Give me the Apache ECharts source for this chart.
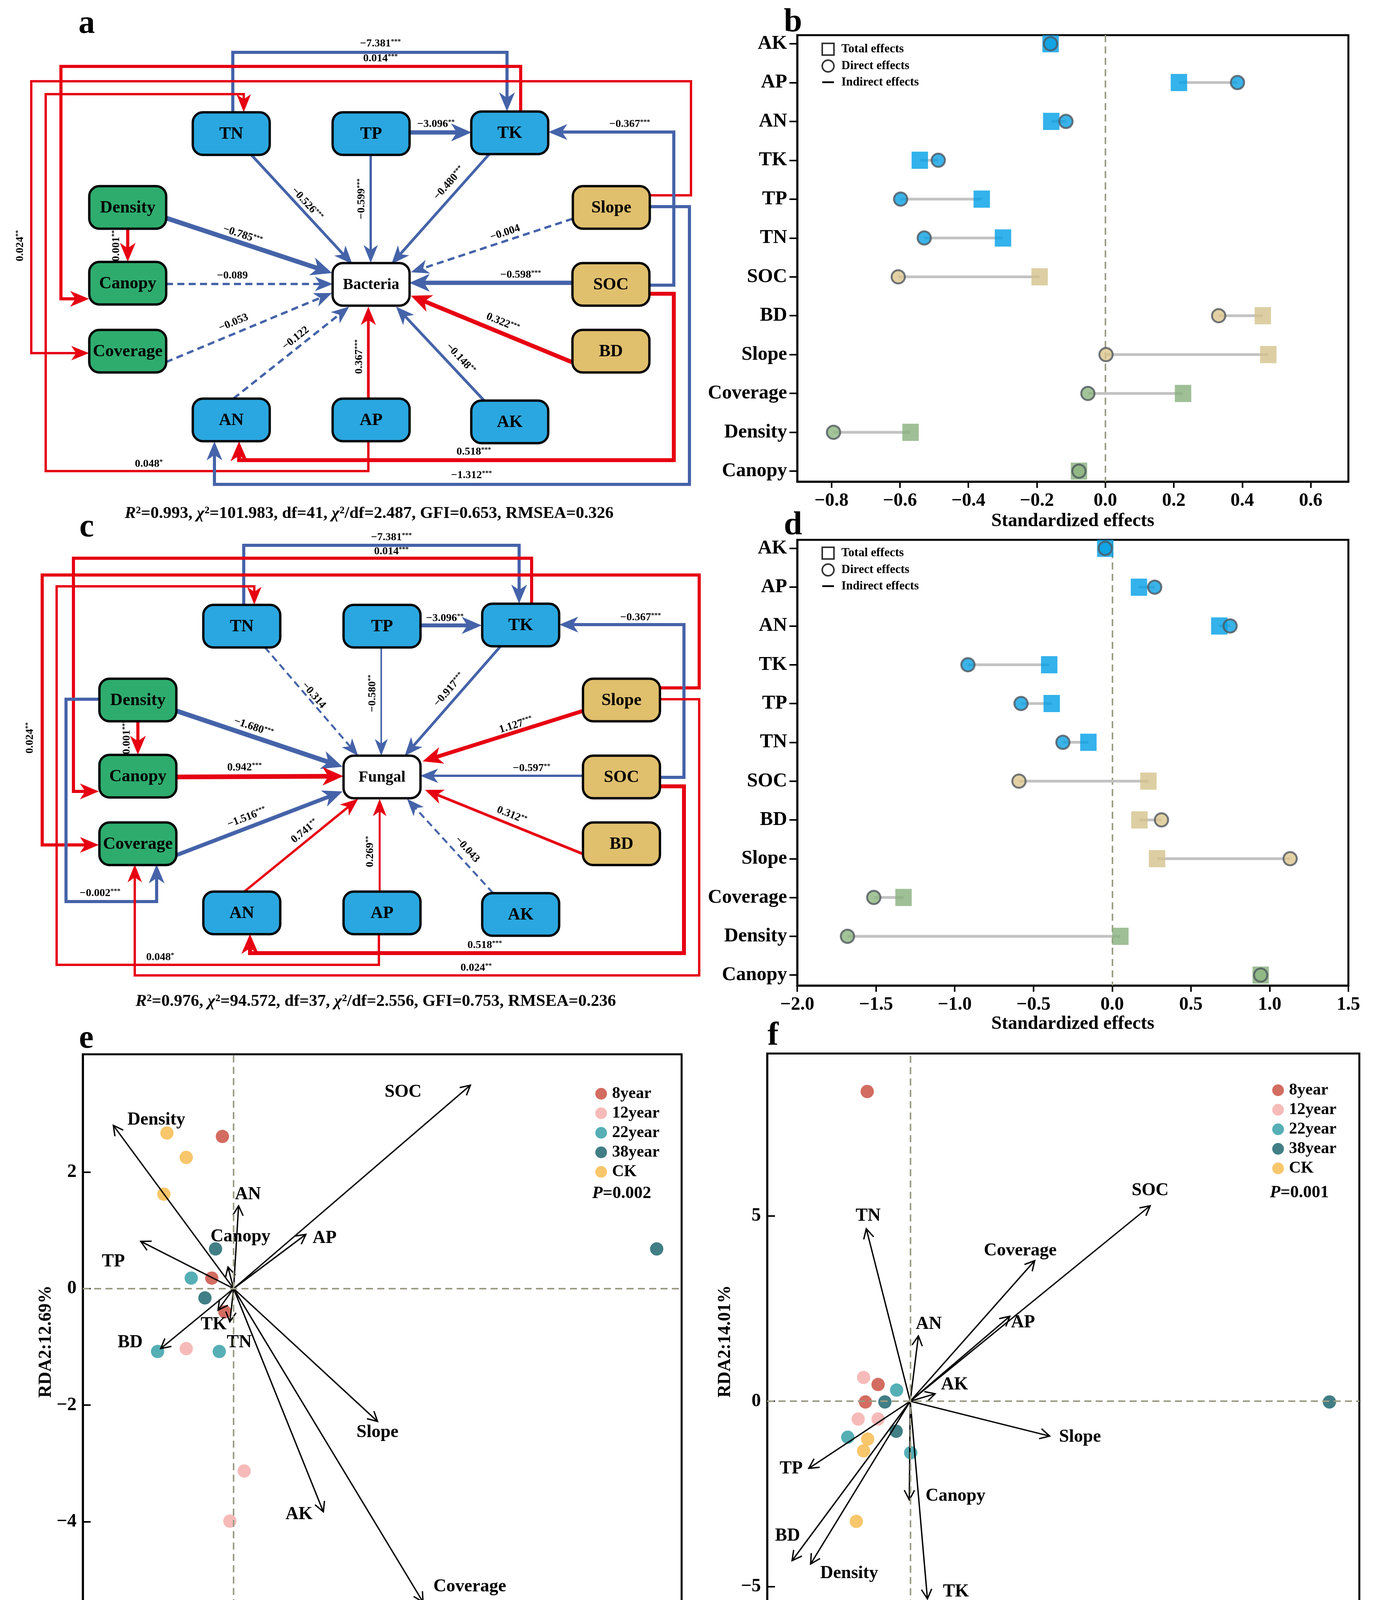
<!DOCTYPE html>
<html><head><meta charset="utf-8">
<script src="https://cdn.jsdelivr.net/npm/echarts@6/dist/echarts.min.js"></script>
<style>html,body{margin:0;padding:0;background:#fff}#c{width:3515px;height:4321px}</style>
</head><body><div id="c"></div>
<script>
// ================= DATA =================
// --- SEM (panels a, c): node names and path coefficients
const aNodes = ['TN','TP','TK','Density','Slope','Canopy','Bacteria','SOC','Coverage','BD','AN','AP','AK'];
const cNodes = ['TN','TP','TK','Density','Slope','Canopy','Fungal','SOC','Coverage','BD','AN','AP','AK'];
const nodeKind = ['soil','soil','soil','veg','site','veg','resp','site','veg','site','soil','soil','soil'];
const aCoef = ['−7.381','0.014','0.024','0.048','−0.367','−1.312','0.518','−3.096','0.001','−0.526','−0.599','−0.480','−0.785','−0.004','−0.089','−0.598','−0.053','−0.122','0.367','−0.148','0.322'];
const aSig  = ['***','***','**','*','***','***','***','**','***','***','***','***','***','','','***','','','***','**','***'];
const cCoef = ['−7.381','0.014','0.024','0.048','−0.367','0.518','−0.002','0.024','−3.096','0.001','−0.314','−0.580','−0.917','−1.680','1.127','0.942','−0.597','−1.516','0.741','0.269','−0.043','0.312'];
const cSig  = ['***','***','**','*','***','***','***','**','**','***','','**','***','***','***','***','**','***','**','**','','**'];
const aFit = ['0.993','101.983','41','2.487','0.653','0.326'];
const cFit = ['0.976','94.572','37','2.556','0.753','0.236'];

// --- Standardized effects (panels b, d)
const effCats  = ['AK','AP','AN','TK','TP','TN','SOC','BD','Slope','Coverage','Density','Canopy'];
const effGroup = ['soil','soil','soil','soil','soil','soil','site','site','site','veg','veg','veg'];
const bactTotal  = [-0.16, 0.215, -0.158, -0.542, -0.361, -0.299, -0.192, 0.46, 0.476, 0.227, -0.569, -0.077];
const bactDirect = [-0.16, 0.386, -0.115, -0.488, -0.598, -0.529, -0.605, 0.331, 0.002, -0.051, -0.794, -0.077];
const fungTotal  = [-0.044, 0.17, 0.68, -0.40, -0.384, -0.151, 0.23, 0.173, 0.285, -1.325, 0.052, 0.943];
const fungDirect = [-0.044, 0.27, 0.749, -0.916, -0.579, -0.313, -0.592, 0.313, 1.13, -1.514, -1.681, 0.943];
const bTicks = [-0.8,-0.6,-0.4,-0.2,0,0.2,0.4,0.6];
const dTicks = [-2,-1.5,-1,-0.5,0,0.5,1,1.5];
const catTicks = [0,1,2,3,4,5,6,7,8,9,10,11];

// --- RDA (panels e, f)
const rdaGroups = ['8year','12year','22year','38year','CK'];
const e8year  = [[-0.18,2.61],[-0.35,0.18],[-0.14,-0.40]];
const e12year = [[-0.76,-1.03],[0.17,-3.13],[-0.06,-3.99]];
const e22year = [[-0.68,0.18],[-1.22,-1.08],[-0.23,-1.08]];
const e38year = [[-0.29,0.68],[-0.46,-0.16],[6.79,0.68]];
const eCK     = [[-1.07,2.67],[-0.76,2.25],[-1.12,1.62]];
const eVars = ['SOC','Density','AN','Canopy','AP','TP','TK','TN','BD','Slope','AK','Coverage'];
const eVarX = [3.80,-1.93,0.08,-0.09,1.16,-1.49,-0.25,-0.06,-1.17,2.31,1.44,3.04];
const eVarY = [3.49,2.80,1.42,0.37,0.93,0.81,-0.37,-0.57,-1.03,-2.28,-3.83,-5.38];
const f8year  = [[-0.95,8.35],[-0.71,0.45],[-0.99,-0.02]];
const f12year = [[-1.03,0.64],[-1.15,-0.48],[-0.71,-0.48]];
const f22year = [[-0.30,0.30],[-1.38,-0.97],[0.01,-1.39]];
const f38year = [[-0.56,-0.02],[-0.31,-0.81],[9.26,-0.02]];
const fCK     = [[-0.94,-1.02],[-1.03,-1.34],[-1.19,-3.24]];
const fVars = ['TN','SOC','Coverage','AP','AN','AK','Slope','Canopy','TK','TP','BD','Density'];
const fVarX = [-0.97,5.30,2.75,2.20,0.18,0.55,3.08,-0.02,0.38,-2.24,-2.61,-2.20];
const fVarY = [4.65,5.27,3.79,2.29,1.76,0.20,-0.94,-2.66,-5.33,-1.81,-4.30,-4.39];
const eXTicks = [0,2.5,5], eXTickLabels = ['0.0','2.5','5.0'];
const eYTicks = [-4,-2,0,2], eYTickLabels = ['−4','−2','0','2'];
const fXTicks = [-2.5,0,2.5,5,7.5], fXTickLabels = ['2.5','0.0','2.5','5.0','7.5'];
const fYTicks = [-5,0,5], fYTickLabels = ['−5','0','5'];
const ePval = '0.002', fPval = '0.001';

// ================= LAYOUT / STYLE =================
const FF = "'Liberation Serif','Times New Roman',serif";
const RED = '#E60012', BLUE = '#4563A9';
const NODE_FILL = {soil:'#2AA7E0', veg:'#2EAC6E', site:'#E0BF6D', resp:'#FFFFFF'};
const SQ_COL = {soil:'#009FE6', site:'#D5C38C', veg:'#87B07D'};
const CI_COL = {soil:'#0AA0E2', site:'#DCC58E', veg:'#8CB57F'};
const GRP_COL = {'8year':'#C8473A','12year':'#F4AAA7','22year':'#2A9BA3','38year':'#115E67','CK':'#F6B846'};
// diagram node centres (diagram units = canvas px)
const aNodePos = [[592,342],[950,342],[1305,340],[327,531],[1565,531],[327,725],[950,728],[1564,728],[327,899],[1564,899],[592,1075],[950,1075],[1305,1080]];
const cNodePos = [[619,1603],[978,1603],[1333,1600],[353,1792],[1591,1792],[353,1987],[978,1989],[1591,1989],[353,2160],[1591,2160],[619,2337],[978,2337],[1333,2341]];
// edge routes (p), line widths (w), label anchor (l), optional label rotation (r)
const aRoutes = [
 {p:[[596,287],[596,134],[1298,134],[1298,285]], w:8, l:[974,112]},
 {p:[[1333,285],[1333,170],[156,170],[156,765],[228,765]], w:8, l:[974,150]},
 {p:[[1663,500],[1769,500],[1769,208],[80,208],[80,904],[228,904]], w:6, l:[52,629], r:90},
 {p:[[943,1130],[943,1206],[117,1206],[117,241],[624,241],[624,287]], w:6, l:[381,1188]},
 {p:[[1663,730],[1725,730],[1725,338],[1404,338]], w:8, l:[1612,318]},
 {p:[[1663,529],[1765,529],[1765,1240],[549,1240],[549,1130]], w:8, l:[1207,1217]},
 {p:[[1663,752],[1725,752],[1725,1178],[612,1178],[612,1130]], w:10, l:[1213,1157]},
 {p:[[1048,339],[1207,339]], w:11, l:[1116,318]},
 {p:[[327,585],[327,670]], w:8, l:[298,625]},
 {p:[[643,396],[902,676]], w:7, l:[786,522]},
 {p:[[949,396],[949,673]], w:6, l:[926,509]},
 {p:[[1253,394],[1002,676]], w:7, l:[1150,469]},
 {p:[[425,558],[850,699]], w:12, l:[621,602]},
 {p:[[1466,560],[1052,697]], w:6, l:[1293,596]},
 {p:[[425,727],[852,727]], w:6, l:[595,706]},
 {p:[[1464,724],[1048,724]], w:11, l:[1333,704]},
 {p:[[425,927],[850,750]], w:6, l:[598,826]},
 {p:[[598,1020],[894,785]], w:6, l:[757,866]},
 {p:[[943,1020],[943,785]], w:7, l:[920,913]},
 {p:[[1239,1025],[1014,785]], w:7, l:[1179,918]},
 {p:[[1464,927],[1052,757]], w:11, l:[1287,826]}
];
const cRoutes = [
 {p:[[624,1548],[624,1396],[1329,1396],[1329,1545]], w:8, l:[1002,1376]},
 {p:[[1361,1545],[1361,1429],[188,1429],[188,2026],[253,2026]], w:8, l:[1002,1412]},
 {p:[[1690,1761],[1790,1761],[1790,1472],[108,1472],[108,2163],[253,2163]], w:8, l:[77,1889], r:90},
 {p:[[970,2391],[970,2470],[145,2470],[145,1501],[651,1501],[651,1548]], w:6, l:[410,2451]},
 {p:[[1690,1990],[1751,1990],[1751,1599],[1432,1599]], w:8, l:[1640,1581]},
 {p:[[1690,2013],[1751,2013],[1751,2440],[640,2440],[640,2391]], w:10, l:[1241,2420]},
 {p:[[253,1790],[169,1790],[169,2308],[401,2308],[401,2213]], w:8, l:[256,2287]},
 {p:[[1690,1790],[1790,1790],[1790,2497],[345,2497],[345,2213]], w:6, l:[1219,2478]},
 {p:[[1076,1601],[1233,1601]], w:10, l:[1139,1583]},
 {p:[[353,1846],[353,1932]], w:8, l:[325,1887]},
 {p:[[678,1657],[917,1935]], w:5, l:[803,1780]},
 {p:[[976,1657],[976,1935]], w:4, l:[954,1775]},
 {p:[[1281,1655],[1036,1935]], w:7, l:[1150,1766]},
 {p:[[452,1820],[877,1963]], w:12, l:[649,1862]},
 {p:[[1492,1820],[1082,1949]], w:10, l:[1321,1856]},
 {p:[[452,1989],[879,1987]], w:12, l:[626,1965]},
 {p:[[1492,1986],[1076,1986]], w:6, l:[1361,1967]},
 {p:[[452,2189],[877,2026]], w:10, l:[632,2093]},
 {p:[[626,2282],[917,2045]], w:6, l:[780,2128]},
 {p:[[972,2282],[972,2045]], w:5, l:[948,2180]},
 {p:[[1262,2286],[1042,2045]], w:5, l:[1196,2175]},
 {p:[[1492,2186],[1088,2022]], w:7, l:[1310,2087]}
];
const eLabX = [2.72,-1.24,0.23,0.11,1.46,-1.93,-0.32,0.09,-1.66,2.31,1.05,3.79];
const eLabY = [3.37,2.89,1.61,0.89,0.86,0.46,-0.62,-0.93,-0.93,-2.47,-3.88,-5.12];
const fLabX = [-0.93,5.30,2.43,2.49,0.41,0.98,3.75,1.00,1.01,-2.63,-2.71,-1.35];
const fLabY = [4.99,5.68,4.06,2.12,2.07,0.44,-0.97,-2.56,-5.14,-1.82,-3.63,-4.65];

// ================= HELPERS =================
const fmt1 = v => (v < -1e-9 ? '−' : '') + Math.abs(v).toFixed(1);
const lookup = (ticks, labels) => v => { const k = ticks.findIndex(t => Math.abs(t - v) < 1e-6); return k >= 0 ? labels[k] : ''; };
const LBL = {fontFamily: FF, fontWeight: 'bold', color: '#000'};
const RICH = {
  n: {fontFamily: FF, fontWeight: 'bold', fontSize: 28, fill: '#000', color: '#000'},
  s: {fontFamily: FF, fontWeight: 'bold', fontSize: 17, fill: '#000', color: '#000', verticalAlign: 'top'}
};

function edgeRender(routes, coefs, sigs) {
  return function (params, api) {
    const i = params.dataIndex, r = routes[i];
    const neg = coefs[i].charAt(0) === '−';
    const col = neg ? BLUE : RED;
    const dashed = sigs[i] === '';
    const pts = r.p.map(p => api.coord(p));
    const n = pts.length;
    const [x1, y1] = pts[n - 2], [x2, y2] = pts[n - 1];
    const dx = x2 - x1, dy = y2 - y1, L = Math.hypot(dx, dy), ux = dx / L, uy = dy / L, px = -uy, py = ux;
    const al = 38 + r.w * 1.3, aw = 13 + r.w * 0.9;
    const bx = x2 - ux * al, by = y2 - uy * al;
    const arrow = [[x2, y2], [bx + px * aw, by + py * aw], [x2 - ux * al * 0.72, y2 - uy * al * 0.72], [bx - px * aw, by - py * aw]];
    const lp = pts.slice(); lp[n - 1] = [x2 - ux * al * 0.6, y2 - uy * al * 0.6];
    let rot = 0;
    if (r.r !== undefined) rot = r.r * Math.PI / 180;
    else if (n === 2) {
      let th = Math.atan2(dy, dx);
      if (th > Math.PI / 2 - 1e-3) th -= Math.PI; else if (th < -Math.PI / 2 - 1e-3) th += Math.PI;
      rot = -th;
    }
    const lab = api.coord(r.l);
    const txt = sigs[i] ? `{n|${coefs[i]}}{s|${sigs[i]}}` : `{n|${coefs[i]}}`;
    return {type: 'group', children: [
      {type: 'polyline', shape: {points: lp}, style: {stroke: col, lineWidth: r.w, fill: null, lineDash: dashed ? [18, 11] : null, lineJoin: 'miter', lineCap: 'butt'}},
      {type: 'polygon', shape: {points: arrow}, style: {fill: col}},
      {type: 'text', x: lab[0], y: lab[1], rotation: rot, style: {text: txt, rich: RICH, align: 'center', verticalAlign: 'middle'}}
    ]};
  };
}
function nodeRender(names, pos) {
  return function (params, api) {
    const i = params.dataIndex;
    const c = api.coord(pos[i]);
    const s = api.size([197, 109]);
    const w = Math.abs(s[0]), h = Math.abs(s[1]);
    return {type: 'group', children: [
      {type: 'rect', shape: {x: c[0] - w / 2, y: c[1] - h / 2, width: w, height: h, r: 26},
       style: {fill: NODE_FILL[nodeKind[i]], stroke: '#000', lineWidth: 6}},
      {type: 'text', x: c[0], y: c[1] + 2, style: {text: names[i], fill: '#000', fontFamily: FF, fontWeight: 'bold',
       fontSize: nodeKind[i] === 'resp' ? 40 : 44, align: 'center', verticalAlign: 'middle'}}
    ]};
  };
}
function indirectRender(params, api) {
  const a = api.coord([api.value(0), api.value(2)]);
  const b = api.coord([api.value(1), api.value(2)]);
  return {type: 'line', shape: {x1: a[0], y1: a[1], x2: b[0], y2: b[1]}, style: {stroke: '#C2C2C2', lineWidth: 7}};
}
function rdaArrowRender(names, labX, labY) {
  return function (params, api) {
    const o = api.coord([0, 0]);
    const t = api.coord([api.value(0), api.value(1)]);
    const i = api.value(2);
    const dx = t[0] - o[0], dy = t[1] - o[1], L = Math.hypot(dx, dy), ux = dx / L, uy = dy / L;
    const A = 28, ang = 28 * Math.PI / 180;
    const rot = (x, y, a) => [x * Math.cos(a) - y * Math.sin(a), x * Math.sin(a) + y * Math.cos(a)];
    const r1 = rot(ux, uy, ang), r2 = rot(ux, uy, -ang);
    const lab = api.coord([labX[i], labY[i]]);
    return {type: 'group', children: [
      {type: 'line', shape: {x1: o[0], y1: o[1], x2: t[0], y2: t[1]}, style: {stroke: '#000', lineWidth: 3.5}},
      {type: 'polyline', shape: {points: [[t[0] - r1[0] * A, t[1] - r1[1] * A], t, [t[0] - r2[0] * A, t[1] - r2[1] * A]]},
       style: {stroke: '#000', lineWidth: 3.5, fill: null}},
      {type: 'text', x: lab[0], y: lab[1], style: {text: names[i], fill: '#000', fontFamily: FF, fontWeight: 'bold', fontSize: 46, align: 'center', verticalAlign: 'middle'}}
    ]};
  };
}

// ================= AXES =================
const hiddenX = {gridIndex: 0, type: 'value', min: 0, max: 1785, show: false};
const hiddenY = {gridIndex: 0, type: 'value', min: 0, max: 2650, inverse: true, show: false};
function effX(gi, min, max, ticks, gap) {
  return {gridIndex: gi, type: 'value', min, max,
    axisLine: {show: true, onZero: false, lineStyle: {color: '#000', width: 5}},
    axisTick: {show: true, inside: false, length: 16, customValues: ticks, lineStyle: {color: '#000', width: 4}},
    axisLabel: {customValues: ticks, formatter: fmt1, margin: 26, fontSize: 48, ...LBL},
    splitLine: {show: false},
    name: 'Standardized effects', nameLocation: 'middle', nameGap: gap,
    nameTextStyle: {fontSize: 48, ...LBL}};
}
function effY(gi) {
  return {gridIndex: gi, type: 'value', inverse: true, min: -0.22, max: 11.27,
    axisLine: {show: true, onZero: false, lineStyle: {color: '#000', width: 5}},
    axisTick: {show: true, inside: false, length: 20, customValues: catTicks, lineStyle: {color: '#000', width: 4}},
    axisLabel: {customValues: catTicks, formatter: v => effCats[Math.round(v)], margin: 26, fontSize: 50, ...LBL},
    splitLine: {show: false}};
}
function rdaAxis(gi, min, max, ticks, labels, name, gap, extra) {
  return Object.assign({gridIndex: gi, type: 'value', min, max,
    axisLine: {show: true, onZero: false, lineStyle: {color: '#000', width: 5}},
    axisTick: {show: true, inside: true, length: 20, customValues: ticks, lineStyle: {color: '#000', width: 4}},
    axisLabel: {customValues: ticks, formatter: lookup(ticks, labels), margin: 16, fontSize: 48, ...LBL},
    splitLine: {show: false},
    name, nameLocation: 'middle', nameGap: gap, nameTextStyle: {fontSize: 46, ...LBL}}, extra || {});
}

const zeroLineStyle = {color: '#9C9C84', width: 4, type: [18, 11]};

// ================= SERIES =================
const series = [];
// SEM diagrams
series.push({type: 'custom', name: 'semA-edges', xAxisIndex: 0, yAxisIndex: 0, z: 2, silent: true,
  renderItem: edgeRender(aRoutes, aCoef, aSig), data: aCoef.map((c, i) => [aRoutes[i].p[0][0], aRoutes[i].p[0][1]])});
series.push({type: 'custom', name: 'semA-nodes', xAxisIndex: 0, yAxisIndex: 0, z: 3, silent: true,
  renderItem: nodeRender(aNodes, aNodePos), data: aNodePos.map(p => [p[0], p[1]])});
series.push({type: 'custom', name: 'semC-edges', xAxisIndex: 0, yAxisIndex: 0, z: 2, silent: true,
  renderItem: edgeRender(cRoutes, cCoef, cSig), data: cCoef.map((c, i) => [cRoutes[i].p[0][0], cRoutes[i].p[0][1]])});
series.push({type: 'custom', name: 'semC-nodes', xAxisIndex: 0, yAxisIndex: 0, z: 3, silent: true,
  renderItem: nodeRender(cNodes, cNodePos), data: cNodePos.map(p => [p[0], p[1]])});

// Effects plots
function effectSeries(gi, total, direct) {
  return [
    {type: 'custom', name: 'Indirect effects', xAxisIndex: gi, yAxisIndex: gi, z: 2, renderItem: indirectRender,
      encode: {x: [0, 1], y: 2}, data: effCats.map((c, i) => [direct[i], total[i], i])},
    {type: 'scatter', name: 'Total effects', xAxisIndex: gi, yAxisIndex: gi, z: 3, symbol: 'rect', symbolSize: [42, 44],
      data: total.map((v, i) => ({value: [v, i], itemStyle: {color: SQ_COL[effGroup[i]]}})),
      markLine: {silent: true, symbol: ['none', 'none'], label: {show: false}, lineStyle: zeroLineStyle, data: [{xAxis: 0}], z: 1}},
    {type: 'scatter', name: 'Direct effects', xAxisIndex: gi, yAxisIndex: gi, z: 4, symbol: 'circle', symbolSize: 34,
      itemStyle: {borderColor: '#4F565E', borderWidth: 5},
      data: direct.map((v, i) => ({value: [v, i], itemStyle: {color: CI_COL[effGroup[i]], borderColor: '#4F565E', borderWidth: 5}}))}
  ];
}
series.push(...effectSeries(1, bactTotal, bactDirect));
series.push(...effectSeries(2, fungTotal, fungDirect));

// RDA plots
function rdaSeries(gi, groups, names, vx, vy, lx, ly) {
  const out = [];
  rdaGroups.forEach((g, k) => {
    const s = {type: 'scatter', name: g, xAxisIndex: gi, yAxisIndex: gi, z: 3, symbolSize: 34,
      itemStyle: {color: GRP_COL[g]}, data: groups[k]};
    if (k === 0) s.markLine = {silent: true, symbol: ['none', 'none'], label: {show: false}, lineStyle: zeroLineStyle,
      data: [{xAxis: 0}, {yAxis: 0}]};
    out.push(s);
  });
  out.push({type: 'custom', name: 'arrows' + gi, xAxisIndex: gi, yAxisIndex: gi, z: 4, silent: true,
    renderItem: rdaArrowRender(names, lx, ly), data: names.map((n, i) => [vx[i], vy[i], i])});
  return out;
}
series.push(...rdaSeries(3, [e8year, e12year, e22year, e38year, eCK], eVars, eVarX, eVarY, eLabX, eLabY));
series.push(...rdaSeries(4, [f8year, f12year, f22year, f38year, fCK], fVars, fVarX, fVarY, fLabX, fLabY));

// ================= LEGENDS =================
function effLegend(top) {
  return {left: 2098, top, orient: 'vertical', itemWidth: 30, itemHeight: 30, itemGap: 9, selectedMode: false,
    textStyle: {fontSize: 31, ...LBL, padding: [0, 0, 0, 14]},
    data: [
      {name: 'Total effects', icon: 'rect', itemStyle: {color: 'rgba(0,0,0,0)', borderColor: '#000', borderWidth: 4}},
      {name: 'Direct effects', icon: 'circle', itemStyle: {color: 'rgba(0,0,0,0)', borderColor: '#000', borderWidth: 4}},
      {name: 'Indirect effects', icon: 'path://M0,0H40V6H0Z', itemStyle: {color: '#000', borderWidth: 0}}
    ]};
}
function rdaLegend(left, top) {
  return {left, top, orient: 'vertical', itemWidth: 30, itemHeight: 30, itemGap: 8, icon: 'circle', selectedMode: false,
    textStyle: {fontSize: 42, ...LBL, padding: [0, 0, 0, 8]}, data: rdaGroups};
}

// ================= TEXT =================
function fitText(f) {
  return `{i|R}{n|²=${f[0]}, }{i|χ}{n|²=${f[1]}, df=${f[2]}, }{i|χ}{n|²/df=${f[3]}, GFI=${f[4]}, RMSEA=${f[5]}}`;
}
const fitRich = {
  n: {fontFamily: FF, fontWeight: 'bold', fontSize: 43, fill: '#000'},
  i: {fontFamily: FF, fontWeight: 'bold', fontStyle: 'italic', fontSize: 43, fill: '#000'}
};
const pRich = {
  n: {fontFamily: FF, fontWeight: 'bold', fontSize: 44, fill: '#000'},
  i: {fontFamily: FF, fontWeight: 'bold', fontStyle: 'italic', fontSize: 44, fill: '#000'}
};
const letter = (t, x, y) => ({type: 'text', x, y, style: {text: t, fill: '#000', fontFamily: FF, fontWeight: 'bold', fontSize: 84, align: 'center', verticalAlign: 'middle'}});
const graphic = [
  letter('a', 222, 62), letter('b', 2030, 58), letter('c', 222, 1351),
  letter('d', 2030, 1346), letter('e', 221, 2660), letter('f', 1979, 2653),
  {type: 'text', x: 945, y: 1315, style: {text: fitText(aFit), rich: fitRich, align: 'center', verticalAlign: 'middle'}},
  {type: 'text', x: 962, y: 2564, style: {text: fitText(cFit), rich: fitRich, align: 'center', verticalAlign: 'middle'}},
  {type: 'text', x: 1516, y: 3056, style: {text: `{i|P}{n|=${ePval}}`, rich: pRich, align: 'left', verticalAlign: 'middle'}},
  {type: 'text', x: 3251, y: 3054, style: {text: `{i|P}{n|=${fPval}}`, rich: pRich, align: 'left', verticalAlign: 'middle'}}
];

const gridBox = {show: true, borderColor: '#000', borderWidth: 5, backgroundColor: 'rgba(0,0,0,0)'};
const option = {
  backgroundColor: '#fff',
  animation: false,
  grid: [
    {left: 0, top: 0, width: 1785, height: 2650, show: false},
    {left: 2041, top: 90, width: 1411, height: 1143, ...gridBox},
    {left: 2041, top: 1382, width: 1411, height: 1141, ...gridBox},
    {left: 212, top: 2699, width: 1533, height: 1471, ...gridBox},
    {left: 1964, top: 2697, width: 1516, height: 1474, ...gridBox}
  ],
  xAxis: [
    hiddenX,
    effX(1, -0.9, 0.71, bTicks, 78),
    effX(2, -2, 1.5, dTicks, 73),
    rdaAxis(3, -2.42, 7.19, eXTicks, eXTickLabels, 'RDA1:21.15%', 72),
    rdaAxis(4, -3.16, 9.92, fXTicks, fXTickLabels, 'RDA1:19.74 %', 72, {nameTextStyle: {fontSize: 46, ...LBL, padding: [0, 0, 0, 162]}})
  ],
  yAxis: [
    hiddenY,
    effY(1),
    effY(2),
    rdaAxis(3, -5.84, 4.02, eYTicks, eYTickLabels, 'RDA2:12.69%', 64),
    rdaAxis(4, -6.15, 9.375, fYTicks, fYTickLabels, 'RDA2:14.01%', 84)
  ],
  legend: [effLegend(104), effLegend(1394), rdaLegend(1519, 2774), rdaLegend(3252, 2765)],
  graphic,
  series
};
const chart = echarts.init(document.getElementById('c'), null, {renderer: 'canvas', width: 3515, height: 4321});
chart.setOption(option);
</script></body></html>
